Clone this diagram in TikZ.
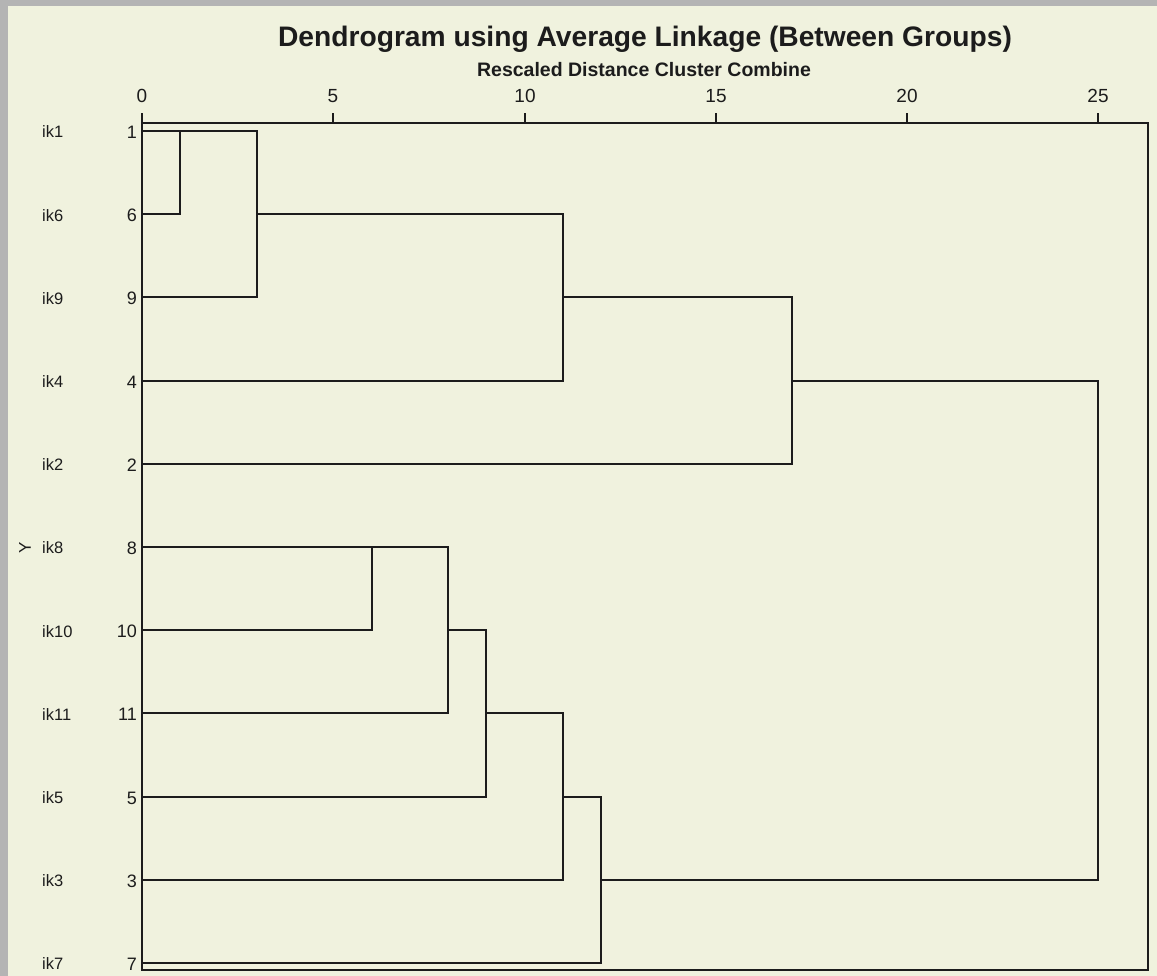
\documentclass[tikz,border=0pt]{standalone}
\usepackage{fontspec}
\setmainfont{Liberation Sans}
\definecolor{bgcol}{HTML}{F0F2DE}
\definecolor{shadowcol}{HTML}{B4B4B4}
\definecolor{inkcol}{HTML}{1C1C1C}
\begin{document}
\begin{tikzpicture}[x=1pt,y=-1pt,
  tree/.style={draw=inkcol, line width=1.9pt, line join=miter},
  framebox/.style={draw=inkcol, line width=1.9pt},
  ticklab/.style={font=\fontsize{19}{19}\selectfont, text=inkcol, inner sep=0pt, anchor=base},
  rownum/.style={font=\fontsize{18}{18}\selectfont, text=inkcol, inner sep=0pt, anchor=east},
  rowname/.style={font=\fontsize{16.5}{16.5}\selectfont, text=inkcol, inner sep=0pt, anchor=west},
  titlestyle/.style={font=\bfseries\fontsize{28.2}{28.2}\selectfont, text=inkcol, inner sep=0pt, anchor=base},
  subtitlestyle/.style={font=\bfseries\fontsize{19.5}{19.5}\selectfont, text=inkcol, inner sep=0pt, anchor=base}]
\useasboundingbox (0,0) rectangle (1157,976);
% background and shadow
\fill[shadowcol] (0,0) rectangle (1157,976);
\fill[bgcol] (8,6) rectangle (1157,976);
% titles
\node[titlestyle] (title) at (645,47) {Dendrogram using Average Linkage (Between Groups)};
\node[subtitlestyle] (subtitle) at (644,77) {Rescaled Distance Cluster Combine};
% axis ticks (coordinates for each integer value)
\foreach \v in {0,...,25} {
  \coordinate (t\v) at ({round(142+38.25*\v)},123);
}
\draw[framebox] (142,123) rectangle (1148,970);
\foreach \v in {0,5,10,15,20,25} {
  \draw[framebox] (t\v) -- ++(0,-10);
  \node[ticklab] (tl\v) at ([yshift=20]t\v) {\v};
}
% rows
\foreach \n/\lab/\k in {1/ik1/0,6/ik6/1,9/ik9/2,4/ik4/3,2/ik2/4,8/ik8/5,10/ik10/6,11/ik11/7,5/ik5/8,3/ik3/9,7/ik7/10} {
  \coordinate (l\n) at (142,{round(131+83.2*\k)});
  \node[rownum] (num\n) at ([xshift=-5,yshift=-1]l\n) {\n};
  \node[rowname] (name\n) at (42,{132+83.2*\k}) {\lab};
}
\node[font=\fontsize{17}{17}\selectfont, text=inkcol, rotate=90, inner sep=0pt] (ylab) at (25,548) {Y};
% upper cluster
\draw[tree] (l6) -| (t1 |- l1);
\draw[tree] (l1) -| (t3 |- l9) -- (l9);
\draw[tree] (t3 |- l6) -| (t11 |- l4) -- (l4);
\draw[tree] (t11 |- l9) -| (t17 |- l2) -- (l2);
\draw[tree] (t17 |- l4) -| (t25 |- l3) -- (t12 |- l3);
% lower cluster
\draw[tree] (l10) -| (t6 |- l8);
\draw[tree] (l8) -| (t8 |- l11) -- (l11);
\draw[tree] (t8 |- l10) -| (t9 |- l5) -- (l5);
\draw[tree] (t9 |- l11) -| (t11 |- l3) -- (l3);
\draw[tree] (t11 |- l5) -| (t12 |- l7) -- (l7);
\end{tikzpicture}
\end{document}
